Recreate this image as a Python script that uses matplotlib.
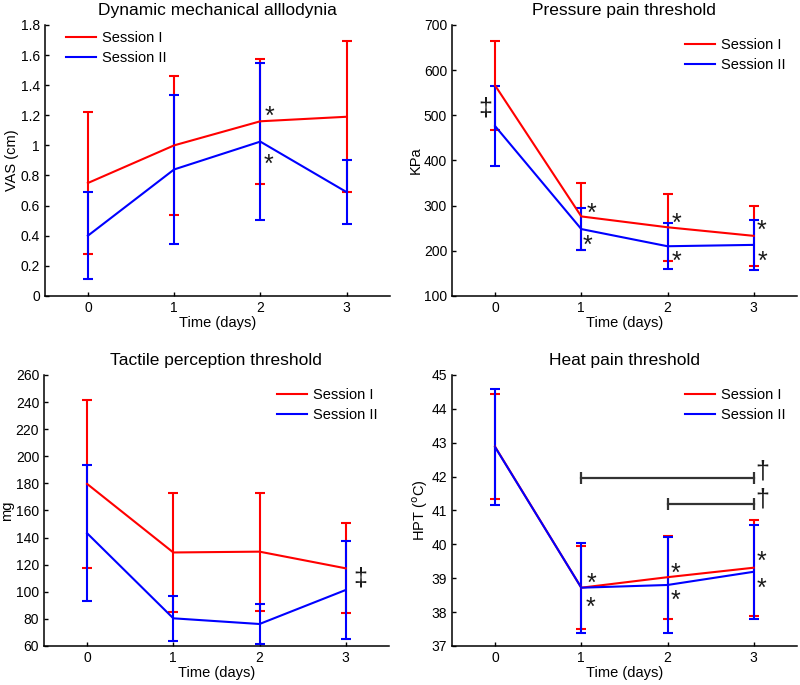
import numpy as np
import matplotlib
matplotlib.use('Agg')
import matplotlib.pyplot as plt
from matplotlib.lines import Line2D
from matplotlib.ticker import FormatStrFormatter

plt.rcParams['font.family'] = ['Liberation Sans', 'DejaVu Sans']

days = [0, 1, 2, 3]
sessions = ['Session I', 'Session II']

# Dynamic mechanical allodynia, VAS (cm)
dma_s1 = [0.75, 1.00, 1.16, 1.19]
dma_s1_err = [0.47, 0.46, 0.415, 0.50]
dma_s2 = [0.40, 0.84, 1.025, 0.69]
dma_s2_err = [0.29, 0.495, 0.52, 0.21]

# Pressure pain threshold (KPa)
ppt_s1 = [566, 276, 252, 233]
ppt_s1_err = [99, 74, 74, 66]
ppt_s2 = [476, 248, 210, 213]
ppt_s2_err = [89, 47, 51, 56]

# Tactile perception threshold (mg)
tpt_s1 = [179.6, 129.0, 129.6, 117.3]
tpt_s1_err = [62, 43.6, 43.6, 33.3]
tpt_s2 = [143.2, 80.4, 76.2, 101.3]
tpt_s2_err = [50, 16.6, 14.4, 36]

# Heat pain threshold (deg C)
hpt_s1 = [42.88, 38.72, 39.03, 39.31]
hpt_s1_err = [1.55, 1.22, 1.23, 1.42]
hpt_s2 = [42.87, 38.72, 38.80, 39.19]
hpt_s2_err = [1.72, 1.33, 1.43, 1.38]

# significance marks (x in days, y in data units)
dma_stars = [(2.11, 1.235), (2.09, 0.92)]
ppt_stars = [(1.12, 298), (1.07, 226), (2.11, 275), (2.11, 191), (3.09, 259), (3.10, 191)]
ppt_ddag = [(-0.12, 515)]
tpt_ddag = [(3.17, 110)]
hpt_stars = [(1.12, 39.05), (1.11, 38.34), (2.09, 39.34), (2.09, 38.53), (3.09, 39.69), (3.09, 38.9)]
hpt_brackets = [(1, 3, 41.95), (2, 3, 41.2)]
hpt_dag = [(3.1, 42.15), (3.1, 41.33)]

RED = '#ff0000'
BLUE = '#0000ff'
INK = '#1a1a1a'


def star(ax, x, y, fs=18):
    ax.annotate('*', (x, y), xytext=(0, -0.565 * fs), textcoords='offset points',
                ha='center', va='baseline', fontsize=fs, color=INK)


def panel(rect, s1, e1, s2, e2, title, ylabel, ylim, yticks, leg_xy, fmt=None):
    ax = fig.add_axes(rect)
    ax.errorbar(days, s1, yerr=e1, color=RED, lw=1.5, elinewidth=1.5, capsize=3.5, capthick=1.5)
    ax.errorbar(days, s2, yerr=e2, color=BLUE, lw=1.5, elinewidth=1.5, capsize=3.5, capthick=1.5)
    ax.set_xlim(-0.5, 3.5)
    ax.set_ylim(*ylim)
    ax.set_xticks(days)
    ax.set_yticks(yticks)
    if fmt:
        ax.yaxis.set_major_formatter(FormatStrFormatter(fmt))
    ax.spines['top'].set_visible(False)
    ax.spines['right'].set_visible(False)
    ax.spines['left'].set_linewidth(1.1)
    ax.spines['bottom'].set_linewidth(1.1)
    ax.tick_params(direction='in', length=3, labelsize=10, width=1)
    ax.set_title(title, fontsize=12.5, pad=7)
    ax.set_xlabel('Time (days)', fontsize=10.5, labelpad=1)
    ax.set_ylabel(ylabel, fontsize=10.5, labelpad=1)
    handles = [Line2D([], [], color=RED, lw=1.5), Line2D([], [], color=BLUE, lw=1.5)]
    ax.legend(handles, sessions, loc='upper left', bbox_to_anchor=leg_xy, frameon=False,
              fontsize=10.5, borderpad=0, borderaxespad=0, handlelength=2.1,
              handletextpad=0.4, labelspacing=0.42)
    return ax


fig = plt.figure(figsize=[8, 6.85], dpi=100)

ax1 = panel([0.056, 0.568, 0.431, 0.3956], dma_s1, dma_s1_err, dma_s2, dma_s2_err,
            'Dynamic mechanical alllodynia', 'VAS (cm)', (0, 1.8), np.arange(0, 1.81, 0.2),
            (0.061, 0.978), fmt='%g')
for x, y in dma_stars:
    star(ax1, x, y)

ax2 = panel([0.565, 0.568, 0.431, 0.3956], ppt_s1, ppt_s1_err, ppt_s2, ppt_s2_err,
            'Pressure pain threshold', 'KPa', (100, 700), np.arange(100, 701, 100),
            (0.675, 0.953))
for x, y in ppt_stars:
    star(ax2, x, y)
for x, y in ppt_ddag:
    ax2.text(x, y, '\u2021', ha='center', va='center', fontsize=18, color=INK)

ax3 = panel([0.055, 0.057, 0.431, 0.3956], tpt_s1, tpt_s1_err, tpt_s2, tpt_s2_err,
            'Tactile perception threshold', 'mg', (60, 260), np.arange(60, 261, 20),
            (0.675, 0.953))
for x, y in tpt_ddag:
    ax3.text(x, y, '\u2021', ha='center', va='center', fontsize=18, color=INK)

ax4 = panel([0.565, 0.057, 0.431, 0.3956], hpt_s1, hpt_s1_err, hpt_s2, hpt_s2_err,
            'Heat pain threshold', r'HPT ($^\mathrm{o}$C)', (37, 45), np.arange(37, 46, 1),
            (0.675, 0.953))
for x, y in hpt_stars:
    star(ax4, x, y)
for x0, x1, y in hpt_brackets:
    ax4.plot([x0, x1], [y, y], color='#333333', lw=1.6, marker='|', markersize=8, markeredgewidth=1.6)
for x, y in hpt_dag:
    ax4.text(x, y, '\u2020', ha='center', va='center', fontsize=18, color=INK)

fig.savefig('out.png', dpi=100)
